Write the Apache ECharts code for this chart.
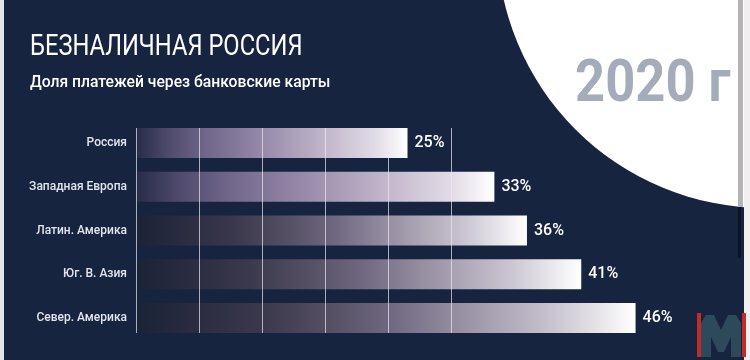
<!DOCTYPE html>
<html>
<head>
<meta charset="utf-8">
<script src="https://cdn.jsdelivr.net/npm/echarts@6/dist/echarts.min.js"></script>
<style>
html,body{margin:0;padding:0;background:#172440;}
#chart{width:750px;height:360px;}
</style>
</head>
<body>
<div id="chart"></div>
<script>
const categories = ['Россия', 'Западная Европа', 'Латин. Америка', 'Юг. В. Азия', 'Север. Америка'];
const values = [25, 33, 36, 41, 46];
const titleText = 'БЕЗНАЛИЧНАЯ РОССИЯ';
const subtitleText = 'Доля платежей через банковские карты';
const yearText = '2020 г';

const BG = '#172440';
const topStops = [
  [0, '#262c48'], [0.12, '#4f4a6d'], [0.25, '#6e6589'], [0.45, '#9486a6'],
  [0.7, '#c2b7cb'], [0.88, '#e2dbe6'], [1, '#ffffff']
];
const lowStops = [
  [0, '#1a2337'], [0.12, '#2a2c40'], [0.25, '#3a384c'], [0.38, '#544e62'],
  [0.51, '#6f6880'], [0.64, '#958da0'], [0.84, '#cac5d0'], [1, '#ffffff']
];
function grad(stops) {
  return {
    type: 'linear', x: 0, y: 0, x2: 1, y2: 0,
    colorStops: stops.map(s => ({ offset: s[0], color: s[1] }))
  };
}

const chart = echarts.init(document.getElementById('chart'), null, { renderer: 'canvas' });

const option = {
  backgroundColor: BG,
  animation: false,
  grid: [
    { left: 136, right: 71, top: 121, bottom: 20 },
    { left: 136, width: 315, top: 128, height: 205 }
  ],
  xAxis: [
    { type: 'value', gridIndex: 0, min: 0, max: 50, show: false },
    {
      type: 'value', gridIndex: 1, min: 0, max: 5, interval: 1, z: 5,
      axisLine: { show: false }, axisTick: { show: false }, axisLabel: { show: false },
      splitLine: { show: true, showMinLine: true, showMaxLine: true,
        lineStyle: { color: 'rgba(235,232,242,0.7)', width: 1 } }
    }
  ],
  yAxis: [
    {
      type: 'category', gridIndex: 0, data: categories, inverse: true,
      axisLine: { show: false }, axisTick: { show: false }, splitLine: { show: false },
      axisLabel: { margin: 9, color: '#e2e5eb', fontFamily: 'Roboto', fontSize: 12, fontWeight: 500 }
    },
    { type: 'value', gridIndex: 1, min: 0, max: 1, show: false }
  ],
  series: [{
    type: 'bar',
    xAxisIndex: 0, yAxisIndex: 0,
    barWidth: 30,
    data: values.map((v, i) => ({
      value: v,
      itemStyle: { color: grad(i < 2 ? topStops : lowStops) }
    })),
    label: {
      show: true, position: 'right', distance: 7,
      formatter: '{c}%', color: '#ffffff',
      fontFamily: 'Roboto', fontSize: 16, fontWeight: 500
    }
  }],
  graphic: [
    { type: 'rect', z: -10, shape: { x: 0, y: 0, width: 4, height: 360 }, style: { fill: '#e4e5ec' } },
    { type: 'circle', z: -5, shape: { cx: 765, cy: -60, r: 268 }, style: { fill: '#ffffff' } },
    { type: 'rect', z: 10, shape: { x: 744, y: 0, width: 6, height: 360 }, style: { fill: '#f1f0ee' } },
    { type: 'rect', z: 10, shape: { x: 738, y: 0, width: 5, height: 207 }, style: { fill: '#b4b4b6' } },
    { type: 'rect', z: 10, shape: { x: 738, y: 207, width: 3, height: 51 }, style: { fill: '#0c1426' } },
    {
      type: 'text', x: 30, y: 32, scaleX: 0.79, z: 10,
      style: { text: titleText, fill: '#ffffff', font: '400 30px Roboto' }
    },
    {
      type: 'text', x: 30, y: 75, scaleX: 0.98, z: 10,
      style: { text: subtitleText, fill: '#ffffff', font: '500 16px Roboto' }
    },
    {
      type: 'text', x: 575, y: 57, scaleX: 0.89, z: 10,
      style: { text: yearText, fill: '#a3acb8', font: 'bold 59px Roboto' }
    },
    { type: 'rect', z: 10, shape: { x: 697, y: 313, width: 49, height: 44 }, style: { fill: '#c42a2c' } },
    { type: 'rect', z: 11, shape: { x: 701, y: 313, width: 41, height: 47 }, style: { fill: BG } },
    {
      type: 'polygon', z: 12,
      shape: { points: [[701,357],[701,323],[706,315],[714,315],[721,330],[728,315],[736,315],[741,323],[741,357],[731,357],[731,337],[724,352],[718,352],[711,337],[711,357]] },
      style: { fill: '#2d4a5b' }
    }
  ]
};
chart.setOption(option);
</script>
</body>
</html>
